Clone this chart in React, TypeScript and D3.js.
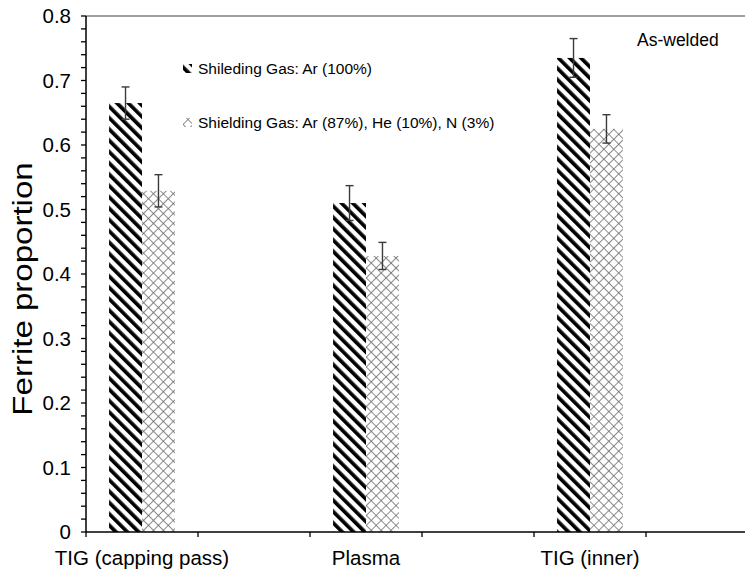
import React, { useEffect, useRef } from 'react';
import * as d3 from 'd3';

// category slots on the x axis (Excel leaves empty slots between the groups)
const slots = ['s0', 's1', 's2', 's3', 's4', 's5'];
const categories = ['TIG (capping pass)', 'Plasma', 'TIG (inner)'];
const categorySlots = ['s0', 's2', 's4'];

const seriesNames = ['Shileding Gas: Ar (100%)', 'Shielding Gas: Ar (87%), He (10%), N (3%)'];
const arValues = [0.665, 0.51, 0.735];
const arErrors = [0.025, 0.027, 0.03];
const mixValues = [0.529, 0.428, 0.625];
const mixErrors = [0.025, 0.021, 0.022];

const yTicks = [0, 0.1, 0.2, 0.3, 0.4, 0.5, 0.6, 0.7, 0.8];

const W = 745;
const H = 569;
const margin = { top: 16, left: 86, bottom: 37 };
const plotRight = 758;

const App = () => {
  const ref = useRef<SVGSVGElement>(null);

  useEffect(() => {
    const svg = d3.select(ref.current);
    svg.selectAll('*').remove();

    const font = '"Liberation Sans", Arial, sans-serif';
    const y0 = H - margin.bottom;

    const x = d3.scaleBand().domain(slots).range([margin.left, plotRight]).padding(0);
    const xSub = d3.scaleBand().domain(['ar', 'mix']).range([0, x.bandwidth()])
      .paddingInner(0).paddingOuter(0.7);
    const y = d3.scaleLinear().domain([0, 0.8]).range([y0, margin.top]);

    // patterns
    const defs = svg.append('defs');
    const hatch = defs.append('pattern')
      .attr('id', 'hatch')
      .attr('patternUnits', 'userSpaceOnUse')
      .attr('width', 8)
      .attr('height', 8)
      .attr('patternTransform', 'rotate(-45)');
    hatch.append('rect').attr('x', 0).attr('y', 0).attr('width', 3.7).attr('height', 8).attr('fill', '#000');

    const cross = defs.append('pattern')
      .attr('id', 'cross')
      .attr('patternUnits', 'userSpaceOnUse')
      .attr('width', 7)
      .attr('height', 7)
      .attr('patternTransform', 'rotate(45)');
    cross.append('rect').attr('width', 7).attr('height', 7).attr('fill', '#fff');
    cross.append('line').attr('x1', 0).attr('y1', 0).attr('x2', 7).attr('y2', 0)
      .attr('stroke', '#666').attr('stroke-width', 1.5);
    cross.append('line').attr('x1', 0).attr('y1', 0).attr('x2', 0).attr('y2', 7)
      .attr('stroke', '#666').attr('stroke-width', 1.5);

    // top border
    svg.append('line')
      .attr('x1', margin.left).attr('x2', W)
      .attr('y1', margin.top).attr('y2', margin.top)
      .attr('stroke', '#808080').attr('stroke-width', 1.5);

    // bars
    const series = [
      { key: 'ar', values: arValues, errors: arErrors, fill: 'url(#hatch)' },
      { key: 'mix', values: mixValues, errors: mixErrors, fill: 'url(#cross)' },
    ];
    series.forEach(s => {
      const g = svg.append('g');
      s.values.forEach((v, i) => {
        const bx = (x(categorySlots[i]) || 0) + (xSub(s.key) || 0);
        g.append('rect')
          .attr('x', bx)
          .attr('y', y(v))
          .attr('width', xSub.bandwidth())
          .attr('height', y0 - y(v))
          .attr('fill', s.fill);
      });
    });

    // error bars
    series.forEach(s => {
      s.values.forEach((v, i) => {
        const cx = (x(categorySlots[i]) || 0) + (xSub(s.key) || 0) + xSub.bandwidth() / 2;
        const top = y(v + s.errors[i]);
        const bot = y(v - s.errors[i]);
        const g = svg.append('g').attr('stroke', '#3a3a3a').attr('stroke-width', 1.4);
        g.append('line').attr('x1', cx).attr('x2', cx).attr('y1', top).attr('y2', bot);
        g.append('line').attr('x1', cx - 4).attr('x2', cx + 4).attr('y1', top).attr('y2', top);
        g.append('line').attr('x1', cx - 4).attr('x2', cx + 4).attr('y1', bot).attr('y2', bot);
      });
    });

    // y axis
    const yAxis = svg.append('g');
    yAxis.append('line')
      .attr('x1', margin.left).attr('x2', margin.left)
      .attr('y1', margin.top).attr('y2', y0)
      .attr('stroke', '#000').attr('stroke-width', 1.5);
    const minor = d3.range(0, 0.8001, 0.02);
    yAxis.selectAll('line.minor').data(minor).join('line')
      .attr('class', 'minor')
      .attr('x1', margin.left - 5).attr('x2', margin.left)
      .attr('y1', d => y(d)).attr('y2', d => y(d))
      .attr('stroke', '#000').attr('stroke-width', 1.3);
    yAxis.selectAll('text').data(yTicks).join('text')
      .attr('x', 71)
      .attr('y', d => y(d))
      .attr('dy', '0.35em')
      .attr('text-anchor', 'end')
      .style('font-family', font)
      .style('font-size', '20.5px')
      .text(d => d3.format('')(+d.toFixed(1)));

    svg.append('text')
      .attr('transform', `translate(32, 289) rotate(-90) scale(1.18, 1)`)
      .attr('text-anchor', 'middle')
      .style('font-family', font)
      .style('font-size', '28px')
      .text('Ferrite proportion');

    // x axis
    const xAxis = svg.append('g');
    xAxis.append('line')
      .attr('x1', margin.left).attr('x2', W)
      .attr('y1', y0).attr('y2', y0)
      .attr('stroke', '#000').attr('stroke-width', 1.5);
    xAxis.selectAll('line.tick').data(slots).join('line')
      .attr('class', 'tick')
      .attr('x1', d => x(d) || 0).attr('x2', d => x(d) || 0)
      .attr('y1', y0).attr('y2', y0 + 5)
      .attr('stroke', '#000').attr('stroke-width', 1.3);
    xAxis.selectAll('text').data(categories).join('text')
      .attr('x', (d, i) => (x(categorySlots[i]) || 0) + x.bandwidth() / 2)
      .attr('y', 565)
      .attr('text-anchor', 'middle')
      .style('font-family', font)
      .style('font-size', '20.5px')
      .text(d => d);

    // legend
    const legend = svg.append('g');
    const fills = ['url(#hatch)', 'url(#cross)'];
    seriesNames.forEach((name, i) => {
      const ly = 69 + i * 54;
      legend.append('rect')
        .attr('x', 183).attr('y', ly - 5).attr('width', 9).attr('height', 9)
        .attr('fill', fills[i]);
      legend.append('text')
        .attr('x', 198).attr('y', ly)
        .attr('dy', '0.35em')
        .style('font-family', font)
        .style('font-size', '15.5px')
        .text(name);
    });

    svg.append('text')
      .attr('x', 637).attr('y', 46)
      .style('font-family', font)
      .style('font-size', '17.5px')
      .text('As-welded');
  }, []);

  return (
    <svg
      ref={ref}
      width={W}
      height={H}
      style={{ position: 'absolute', left: 0, top: 0, background: '#fff' }}
    />
  );
};

export default App;
